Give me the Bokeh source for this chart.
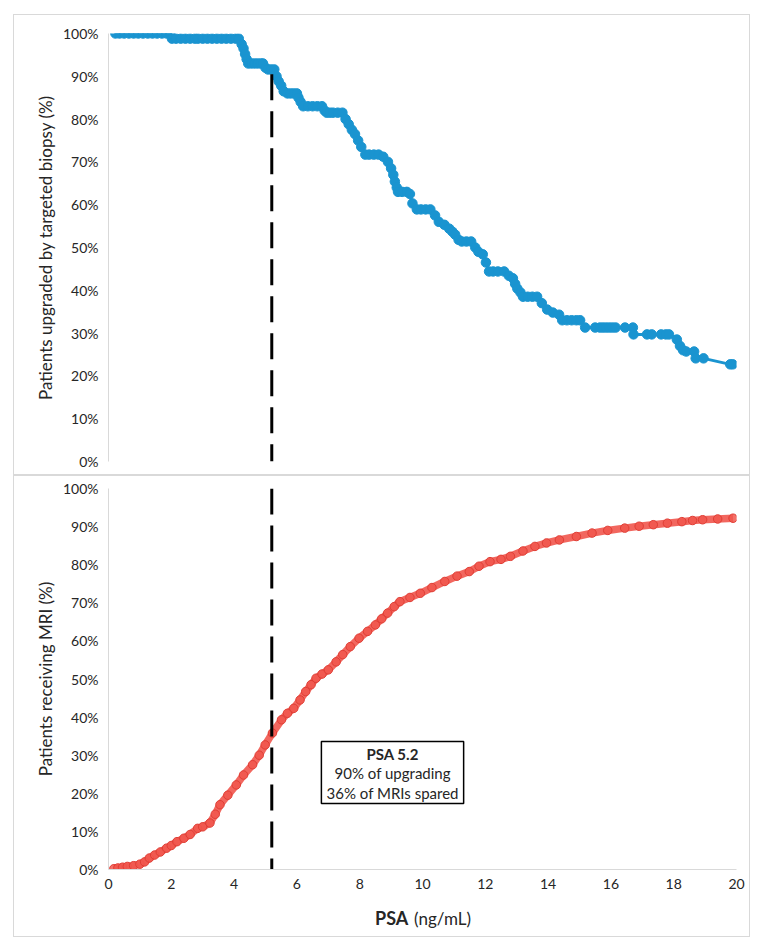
from bokeh.plotting import figure
from bokeh.layouts import column, row
from bokeh.models import (Spacer, FixedTicker, PrintfTickFormatter, Range1d,
                          BoxAnnotation, Label, ColumnDataSource)
from bokeh.core.properties import value
from bokeh.embed import file_html
from bokeh.resources import INLINE

# ---------------- data ----------------
upg_psa = [0.22, 0.35, 0.5, 0.65, 0.8, 0.95, 1.1, 1.25, 1.4, 1.55, 1.7, 1.85, 1.97,
           2.02, 2.15, 2.3, 2.45, 2.6, 2.75, 2.85, 3.0, 3.15, 3.3, 3.45, 3.6, 3.75, 3.9, 4.05, 4.15,
           4.24, 4.3, 4.35, 4.4, 4.45, 4.55, 4.65, 4.75, 4.85, 4.92, 5.0, 5.08, 5.18, 5.28,
           5.35, 5.42, 5.5, 5.58, 5.7, 5.8, 5.9, 6.0, 6.05, 6.12, 6.2, 6.35, 6.5, 6.65, 6.8,
           6.88, 6.95, 7.05, 7.15, 7.3, 7.45,
           7.55, 7.65, 7.75, 7.85, 7.95, 8.05, 8.18, 8.3, 8.45, 8.6, 8.75, 8.9, 9.0, 9.07,
           9.12, 9.18, 9.22, 9.35, 9.5, 9.6, 9.68, 9.82, 9.95, 10.1, 10.25, 10.4, 10.52,
           10.7, 10.85, 10.95, 11.04, 11.15, 11.25, 11.4, 11.55, 11.68, 11.78, 11.92, 12.02,
           12.12, 12.25, 12.4, 12.6, 12.75, 12.88, 12.95, 13.02, 13.12, 13.2, 13.35, 13.5,
           13.65, 13.8, 13.97, 14.15, 14.35, 14.45, 14.6, 14.75, 14.9, 15.02, 15.18, 15.5,
           15.65, 15.75, 15.85, 15.95, 16.05, 16.15, 16.45, 16.7, 16.72, 17.15, 17.3, 17.6,
           17.75, 17.85, 18.1, 18.2, 18.3, 18.4, 18.65, 18.7, 18.95, 19.8, 19.88]
upg_pct = [100] * 13 + [98.8] * 16 + \
          [97.5, 96.5, 95.2, 94.0, 93.0, 93.0, 93.0, 93.0, 93.0, 93.0, 92.0, 91.6, 91.6, 91.6,
           90.0, 88.8, 87.8, 86.5, 86.0, 86.0, 86.0, 86.0, 85.0, 84.0, 83.0, 83.0, 83.0, 83.0, 83.0,
           82.0, 81.5, 81.5, 81.5, 81.5, 81.5,
           80.0, 78.8, 77.5, 76.5, 75.0, 73.5, 71.7, 71.7, 71.7, 71.7, 71.2, 70.0, 68.5, 67.0,
           65.4, 64.0, 63.0, 63.0, 63.0, 62.5, 60.3, 58.9, 58.9, 58.9, 58.9, 57.5, 56.0,
           55.3, 54.4, 53.7, 53.0, 51.8, 51.4, 51.4, 51.4, 50.0, 49.0, 48.4, 46.5,
           44.4, 44.4, 44.4, 44.4, 43.4, 42.8, 41.5, 40.4, 39.5, 38.5, 38.5, 38.5,
           38.5, 37.0, 35.5, 34.8, 34.3, 33.0, 33.0, 33.0, 33.0, 33.0, 31.3, 31.3,
           31.3, 31.3, 31.3, 31.3, 31.3, 31.3, 31.3, 31.3, 29.7, 29.7, 29.7, 29.7,
           29.7, 29.7, 28.5, 27.0, 26.0, 25.7, 25.7, 24.1, 24.1, 22.7, 22.7]

mri_psa = [0.17, 0.3, 0.45, 0.6, 0.8, 1.0, 1.15, 1.3, 1.47, 1.65, 1.85, 2.0, 2.18, 2.4, 2.6,
           2.84, 3.0, 3.23, 3.4, 3.55, 3.8, 4.07, 4.3, 4.59, 4.8, 4.99, 5.22, 5.51, 5.7, 5.9,
           6.1, 6.28, 6.45, 6.61, 6.8, 7.0, 7.25, 7.46, 7.7, 7.98, 8.25, 8.5, 8.7, 8.89, 9.1,
           9.28, 9.6, 9.93, 10.3, 10.71, 11.1, 11.49, 11.8, 12.15, 12.5, 12.8, 13.2, 13.58,
           13.95, 14.36, 14.9, 15.4, 15.9, 16.44, 16.9, 17.35, 17.8, 18.26, 18.6, 18.92,
           19.4, 19.89]
mri_pct = [0.2, 0.4, 0.6, 0.8, 1.0, 1.4, 2.0, 3.0, 3.8, 4.6, 5.6, 6.3, 7.3, 8.2, 9.2,
           10.8, 11.2, 12.2, 14.5, 17.0, 19.5, 22.2, 24.8, 27.5, 30.0, 32.7, 35.8, 39.3, 41.0, 42.3,
           44.5, 46.7, 48.5, 50.2, 51.3, 52.4, 54.5, 56.4, 58.5, 60.7, 62.5, 64.2, 65.8, 67.3, 69.0,
           70.3, 71.4, 72.5, 74.0, 75.6, 77.0, 78.2, 79.6, 80.8, 81.4, 82.2, 83.6, 84.8,
           85.7, 86.5, 87.4, 88.3, 89.0, 89.6, 90.1, 90.5, 90.9, 91.3, 91.6, 91.8,
           92.0, 92.2]

x_ticks = [0, 2, 4, 6, 8, 10, 12, 14, 16, 18, 20]
y_ticks = [0, 10, 20, 30, 40, 50, 60, 70, 80, 90, 100]

psa_cut = 5.2
upgrade_at_cut = 90.5

y_title_top = "Patients upgraded by targeted biopsy (%)"
y_title_bottom = "Patients receiving MRI (%)"
x_title_bold = "PSA"
x_title_unit = "(ng/mL)"
note_lines = ["PSA 5.2", "90% of upgrading", "36% of MRIs spared"]

# ---------------- styling ----------------
FONT = "Lato"
TXT = "#262626"
AXIS_GRAY = "#d9d9d9"
BORDER = "1px solid #d9d9d9"
BLUE = "#1A94D0"
RED = "#F1574E"
W = 737
ML, MR = 94, 15


def style(p):
    p.grid.visible = False
    p.outline_line_color = None
    p.background_fill_color = "white"
    p.border_fill_color = "white"
    for ax in p.axis:
        ax.axis_line_color = AXIS_GRAY
        ax.axis_line_width = 1
        ax.major_tick_line_color = None
        ax.minor_tick_line_color = None
        ax.major_tick_out = 0
        ax.major_tick_in = 0
        ax.major_label_text_font = FONT
        ax.major_label_text_font_size = "14px"
        ax.major_label_text_color = TXT
        ax.axis_label_text_font = FONT
        ax.axis_label_text_font_size = "17px"
        ax.axis_label_text_font_style = "normal"
        ax.axis_label_text_color = TXT
    p.yaxis.ticker = FixedTicker(ticks=y_ticks)
    p.yaxis.formatter = PrintfTickFormatter(format="%d%%")
    p.yaxis.major_label_standoff = 10
    p.yaxis.axis_label_standoff = 4
    p.xaxis.ticker = FixedTicker(ticks=x_ticks)
    p.xaxis.major_label_standoff = 9


# ---------------- top panel ----------------
p1 = figure(width=W, height=461, x_range=Range1d(0, 20), y_range=Range1d(0, 100),
            output_backend="svg", toolbar_location=None,
            min_border_left=ML, min_border_right=MR, min_border_top=18, min_border_bottom=15)
style(p1)
p1.xaxis.visible = False
p1.yaxis.axis_label = y_title_top
p1.styles = {"border": BORDER}

src1 = ColumnDataSource(dict(x=upg_psa, y=upg_pct))
p1.line("x", "y", source=src1, line_color=BLUE, line_width=3)
p1.scatter("x", "y", source=src1, size=9.5, fill_color=BLUE, line_color=BLUE)
p1.line([psa_cut, psa_cut], [upgrade_at_cut, 0], line_color="black", line_width=3,
        line_dash="26 11")

# ---------------- bottom panel ----------------
p2 = figure(width=W, height=423, x_range=p1.x_range, y_range=Range1d(0, 100),
            output_backend="svg", toolbar_location=None,
            min_border_left=ML, min_border_right=MR, min_border_top=12, min_border_bottom=30)
style(p2)
p2.yaxis.axis_label = y_title_bottom
p2.styles = {"border-top": BORDER, "border-left": BORDER, "border-right": BORDER}

src2 = ColumnDataSource(dict(x=mri_psa, y=mri_pct))
p2.line("x", "y", source=src2, line_color=RED, line_width=7.5, line_alpha=0.9)
p2.scatter("x", "y", source=src2, size=8.5, fill_color=RED, fill_alpha=0.85,
           line_color="#E03E35", line_width=1)
p2.line([psa_cut, psa_cut], [100, 0], line_color="black", line_width=3, line_dash="26 11")

# annotation box
p2.add_layout(BoxAnnotation(left=6.78, right=11.31, bottom=17.3, top=33.6,
                            fill_color="white", fill_alpha=1.0,
                            line_color="black", line_alpha=1.0, line_width=1.5))
box_cx = 9.05
for txt, yy, bold in [(note_lines[0], 30.3, True), (note_lines[1], 25.2, False),
                      (note_lines[2], 20.2, False)]:
    p2.add_layout(Label(x=box_cx, y=yy, text=txt, text_align="center", text_baseline="middle",
                        text_font=FONT, text_font_size="15px",
                        text_font_style="bold" if bold else "normal", text_color=TXT))

# ---------------- x-axis title strip (mixed weights) ----------------
p3 = figure(width=W, height=39, x_range=p1.x_range, y_range=Range1d(0, 1),
            output_backend="svg", toolbar_location=None,
            x_axis_location=None, y_axis_location=None,
            min_border_left=ML, min_border_right=MR, min_border_top=0, min_border_bottom=0)
p3.grid.visible = False
p3.outline_line_color = None
p3.styles = {"border-bottom": BORDER, "border-left": BORDER, "border-right": BORDER}
p3.text(x=[9.55], y=[0.5], text=[x_title_bold], text_align="right", text_baseline="middle",
        text_font=value(FONT), text_font_size="18px", text_font_style="bold", text_color=TXT)
p3.text(x=[9.73], y=[0.5], text=[x_title_unit], text_align="left", text_baseline="middle",
        text_font=value(FONT), text_font_size="17px", text_font_style="normal", text_color=TXT)

layout = column(Spacer(height=14), row(Spacer(width=13), column(p1, p2, p3)))

open("out.html", "w").write(file_html(layout, INLINE))
